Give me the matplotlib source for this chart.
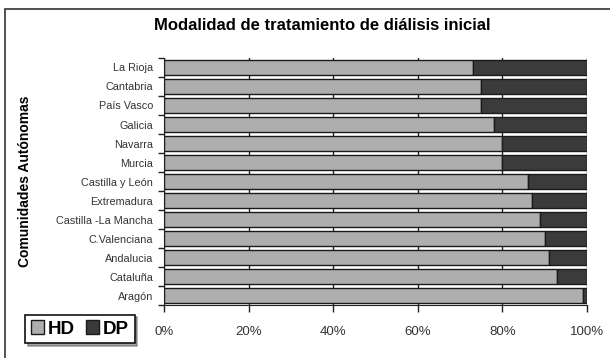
import numpy as np
import matplotlib.pyplot as plt
from matplotlib.patches import Rectangle

plt.rcParams['font.family'] = ['Liberation Sans', 'DejaVu Sans']

# communities from top to bottom, % HD (haemodialysis), rest is DP
comunidades = ["La Rioja", "Cantabria", "País Vasco", "Galicia", "Navarra",
               "Murcia", "Castilla y León", "Extremadura", "Castilla -La Mancha",
               "C.Valenciana", "Andalucia", "Cataluña", "Aragón"]
hd = [73, 75, 75, 78, 80, 80, 86, 87, 89, 90, 91, 93, 99]
dp = [100 - v for v in hd]
xticks = [0, 20, 40, 60, 80, 100]

fig = plt.figure(figsize=(6.1, 3.58), dpi=100)
ax = fig.add_axes([0.269, 0.148, 0.693, 0.690])

# outer frame of the chart
fig.patches.append(Rectangle((5/610, -0.1), 1.2, (358-9)/358 + 0.1,
                             transform=fig.transFigure, fill=False,
                             edgecolor="#333333", linewidth=1.2))

y = np.arange(len(comunidades))[::-1]
ax.barh(y, hd, height=0.84, color="#aeaeae", edgecolor="#1a1a1a",
        linewidth=1.0, label="HD", zorder=2)
ax.barh(y, dp, left=hd, height=0.84, color="#3b3b3b", edgecolor="#1a1a1a",
        linewidth=1.0, label="DP", zorder=2)

ax.set_xlim(0, 100)
ax.set_ylim(-0.5, len(comunidades) - 0.5)
ax.set_xticks(xticks)
ax.set_xticklabels([f"{v}%" for v in xticks], fontsize=9.5, color="#333333")
ax.tick_params(axis="x", length=5, width=1, pad=10, color="#222222")
ax.grid(axis="x", color="#222222", linewidth=1.0, zorder=0)

ax.set_yticks(y)
ax.set_yticklabels(comunidades, fontsize=7.8, color="#333333")
ax.set_yticks(np.arange(len(comunidades) + 1) - 0.5, minor=True)
ax.tick_params(axis="y", which="major", length=0, pad=8)
ax.tick_params(axis="y", which="minor", length=4, width=1, color="#222222")

for s in ["top", "right"]:
    ax.spines[s].set_visible(False)
for s in ["left", "bottom"]:
    ax.spines[s].set_color("#222222")

ax.set_ylabel("Comunidades Autónomas", fontsize=10, fontweight="bold",
              labelpad=0)
ax.yaxis.set_label_coords(-0.312, 0.5)

fig.text(0.528, 0.928, "Modalidad de tratamiento de diálisis inicial",
         ha="center", va="center", fontsize=12, fontweight="bold")

leg = fig.legend(loc="center", bbox_to_anchor=(80/610, 1 - 329/358),
                 ncol=2, prop={"weight": "bold", "size": 13.5},
                 frameon=True, fancybox=False, shadow=True, handlelength=0.7,
                 handleheight=0.75, handletextpad=0.2, columnspacing=0.6,
                 borderpad=0.3, edgecolor="#111111")
leg.get_frame().set_linewidth(1.2)

fig.savefig("out.png", dpi=100)
